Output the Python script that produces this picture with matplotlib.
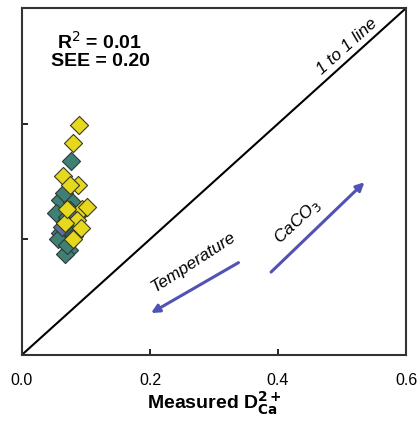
import matplotlib.pyplot as plt
import numpy as np

plt.rcParams['font.family'] = ['Liberation Sans', 'DejaVu Sans']

# measured vs predicted D values, grouped by marker colour
measured_yellow = [0.089, 0.080, 0.065, 0.088, 0.075, 0.094, 0.101, 0.086, 0.067, 0.080, 0.093, 0.070]
predicted_yellow = [0.398, 0.366, 0.310, 0.294, 0.294, 0.253, 0.255, 0.234, 0.228, 0.200, 0.220, 0.252]
measured_teal = [0.077, 0.060, 0.079, 0.075, 0.054, 0.071, 0.060, 0.056, 0.074, 0.068, 0.078, 0.066, 0.083, 0.070]
predicted_teal = [0.335, 0.268, 0.265, 0.250, 0.246, 0.238, 0.210, 0.200, 0.182, 0.175, 0.210, 0.280, 0.232, 0.190]
measured_blue = [0.086, 0.063, 0.082]
predicted_blue = [0.240, 0.222, 0.205]

r2 = 0.01
see = 0.20

fig = plt.figure(figsize=(4.2, 4.23), dpi=100)
ax = fig.add_axes([0.052, 0.161, 0.915, 0.82])

ax.plot([0, 0.6], [0, 0.6], color='black', lw=1.5, zorder=1)

ax.scatter(measured_teal, predicted_teal, marker='D', s=85, c='#3f7f74',
           edgecolors='#2b3b3a', linewidths=0.8, zorder=3)
ax.scatter(measured_blue, predicted_blue, marker='D', s=85, c='#5c6f9e',
           edgecolors='#2b3b3a', linewidths=0.8, zorder=3)
ax.scatter(measured_yellow, predicted_yellow, marker='D', s=85, c='#e6d81e',
           edgecolors='#3a3a20', linewidths=0.8, zorder=4)

# direction arrows
ax.annotate('', xy=(0.198, 0.070), xytext=(0.342, 0.162),
            arrowprops=dict(arrowstyle='-|>', color='#5252b4', lw=2.2,
                            mutation_scale=12))
ax.annotate('', xy=(0.538, 0.302), xytext=(0.386, 0.140),
            arrowprops=dict(arrowstyle='-|>', color='#5252b4', lw=2.2,
                            mutation_scale=12))
ax.text(0.268, 0.160, 'Temperature', rotation=33, style='italic', fontsize=12.5,
        ha='center', va='center')
ax.text(0.430, 0.230, 'CaCO$_3$', rotation=43, style='italic', fontsize=12.5,
        ha='center', va='center')
ax.text(0.508, 0.534, '1 to 1 line', rotation=42, style='italic', fontsize=12.5,
        ha='center', va='center')

ax.text(0.122, 0.527, f'R$^2$ = {r2:.2f}\nSEE = {see:.2f}', fontsize=14,
        fontweight='bold', ha='center', va='center', linespacing=1.0)

ax.set_xlim(0, 0.6)
ax.set_ylim(0, 0.6)
ax.set_xticks([0.0, 0.2, 0.4, 0.6])
ax.set_xticklabels(['0.0', '0.2', '0.4', '0.6'], fontsize=11.5)
ax.set_yticks([0.2, 0.4])
ax.set_yticklabels([])
ax.tick_params(direction='in', length=4, width=1.2, pad=13)
ax.set_xlabel('Measured D$_{\\mathbf{Ca}}^{\\mathbf{2+}}$', fontsize=14,
              fontweight='bold', labelpad=1)
for sp in ax.spines.values():
    sp.set_linewidth(1.5)
    sp.set_color('#333333')

fig.savefig('out.png', dpi=100)
